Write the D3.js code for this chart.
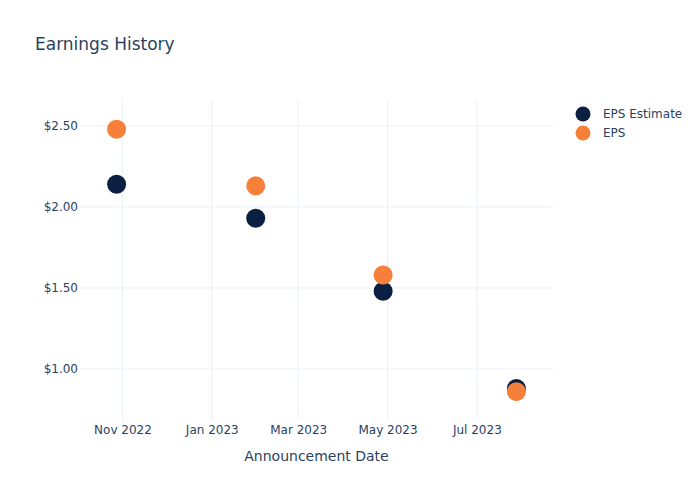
<!DOCTYPE html>
<html><head><meta charset="utf-8">
<script src="https://cdn.jsdelivr.net/npm/d3@7"></script>
<style>body{margin:0;background:#fff;} text{font-family:"DejaVu Sans",sans-serif;}</style>
</head><body><svg id="c" width="700" height="500"></svg>
<script>
const dates = ["2022-10-28","2023-01-31","2023-04-28","2023-07-28"];
const epsEstimate = [2.14, 1.93, 1.48, 0.88];
const eps = [2.48, 2.13, 1.58, 0.86];
const yTicks = [1.0, 1.5, 2.0, 2.5];
const xTicks = ["2022-11-01","2023-01-01","2023-03-01","2023-05-01","2023-07-01"];
const seriesNames = ["EPS Estimate","EPS"];
const colors = ["#0b1f42","#f6803a"];

const parse = d3.utcParse("%Y-%m-%d");
const svg = d3.select("#c");
const L=80, R=553, T=100, B=420;
const x = d3.scaleUtc().domain([parse("2022-10-03"), parse("2023-08-22")]).range([L,R]);
const y = d3.scaleLinear().domain([0.685, 2.660]).range([B,T]);
const txt="#2a3f5f", grid="#ebf0f8";

// grid
svg.append("g").selectAll("line").data(xTicks).join("line")
  .attr("x1",d=>x(parse(d))).attr("x2",d=>x(parse(d))).attr("y1",T).attr("y2",B)
  .attr("stroke",grid).attr("stroke-width",1);
svg.append("g").selectAll("line").data(yTicks).join("line")
  .attr("x1",L).attr("x2",R).attr("y1",d=>y(d)).attr("y2",d=>y(d))
  .attr("stroke",grid).attr("stroke-width",1);

// axes
const xAxis = d3.axisBottom(x).tickValues(xTicks.map(parse)).tickFormat(d3.utcFormat("%b %Y")).tickSize(0).tickPadding(5);
const gx = svg.append("g").attr("transform",`translate(0,${B})`).call(xAxis);
gx.select(".domain").remove();
gx.selectAll("text").attr("fill",txt).style("font-size","12px").style("font-family","DejaVu Sans");
const yAxis = d3.axisLeft(y).tickValues(yTicks).tickFormat(d=>"$"+d3.format(".2f")(d)).tickSize(0).tickPadding(2);
const gy = svg.append("g").attr("transform",`translate(${L},0)`).call(yAxis);
gy.select(".domain").remove();
gy.selectAll("text").attr("fill",txt).style("font-size","12px").style("font-family","DejaVu Sans");

// points
[epsEstimate, eps].forEach((vals,i)=>{
  svg.append("g").selectAll("circle").data(vals).join("circle")
    .attr("cx",(d,j)=>x(parse(dates[j]))).attr("cy",d=>y(d)).attr("r",9.5)
    .attr("fill",colors[i]);
});

// title
svg.append("text").attr("x",35).attr("y",50).attr("fill",txt).style("font-size","17px").text("Earnings History");
svg.append("text").attr("x",(L+R)/2).attr("y",461).attr("text-anchor","middle").attr("fill",txt).style("font-size","14px").text("Announcement Date");

// legend
const lg = svg.append("g");
seriesNames.forEach((n,i)=>{
  lg.append("circle").attr("cx",583).attr("cy",114+i*19).attr("r",7.5).attr("fill",colors[i]);
  lg.append("text").attr("x",603).attr("y",118+i*19).attr("fill",txt).style("font-size","12px").text(n);
});
</script></body></html>
